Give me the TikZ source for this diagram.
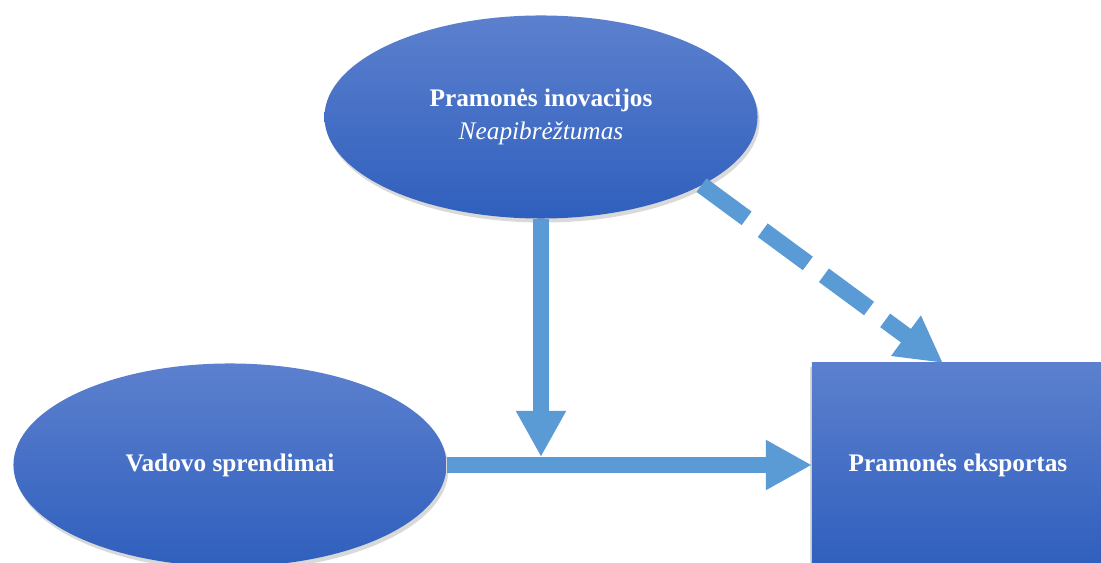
\documentclass[tikz,border=0pt]{standalone}
\usepackage{fontspec}
\setmainfont{Liberation Serif}
\usetikzlibrary{arrows.meta,shapes.geometric,shadows}
\definecolor{topblue}{RGB}{92,128,206}
\definecolor{botblue}{RGB}{47,95,189}
\definecolor{arrowblue}{RGB}{91,155,213}
\begin{document}
\begin{tikzpicture}[x=0.025cm, y=-0.025cm,
    blob/.style={ellipse, top color=topblue, bottom color=botblue, minimum width=10.825cm, minimum height=5.075cm, inner sep=0pt, outer sep=0pt, text=white, align=center, font=\bfseries\fontsize{18}{24}\selectfont, drop shadow={opacity=0.3, shadow xshift=0.05cm, shadow yshift=-0.1cm}},
    box/.style={rectangle, top color=topblue, bottom color=botblue, minimum width=7.3cm, minimum height=5.1cm, inner sep=0pt, outer sep=0pt, text=white, align=center, font=\bfseries\fontsize{18}{24}\selectfont, drop shadow={opacity=0.3, shadow xshift=-0.05cm, shadow yshift=-0.1cm}},
    arrow/.style={draw=arrowblue, line width=0.42cm, -{Triangle[length=1.15cm, width=1.17cm]}},
    dasharrow/.style={arrow, dash pattern=on 1.4cm off 0.5cm}
]
\useasboundingbox (0,0) rectangle (1101,563);
\clip (0,0) rectangle (1101,563);

% Nodes
\node[blob] (innov) at (541,117) {Pramonės inovacijos\\{\mdseries\itshape Neapibrėžtumas}};
\node[blob] (vadovas) at (230,465) {Vadovo sprendimai};
\node[box] (eksportas) at (958,465) {Pramonės eksportas};
\coordinate (join) at (541,457);

% Arrows
\draw[arrow] (vadovas.east) -- (eksportas.west);
\draw[arrow] (innov.south) -- (join);
\draw[dasharrow] (innov.-23) -- ([xshift=-0.375cm]eksportas.north);
\end{tikzpicture}
\end{document}
